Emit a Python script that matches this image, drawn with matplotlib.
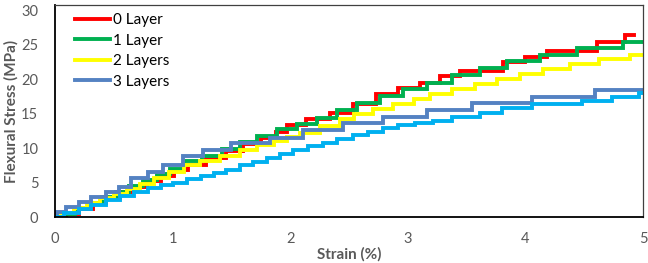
import matplotlib
matplotlib.use('Agg')
import matplotlib.pyplot as plt

# step curves (strain %, stress MPa)
x0 = [0, 0.09, 0.20, 0.32, 0.43, 0.55, 0.66, 0.78, 0.90, 1.01, 1.13, 1.28, 1.45, 1.60,
      1.75, 1.88, 1.97, 2.13, 2.34, 2.53, 2.73, 2.92, 3.10, 3.27, 3.44, 3.81, 4.00, 4.18,
      4.61, 4.85, 4.92]
y0 = [0, 0.4, 1.2, 2.0, 2.8, 3.6, 4.4, 5.2, 6.0, 6.8, 7.6, 8.6, 9.6, 10.6,
      11.5, 12.4, 13.3, 14.3, 15.1, 16.4, 17.8, 18.8, 19.5, 20.5, 21.2, 22.5, 23.2, 24.1,
      25.5, 26.5, 26.5]

x1 = [0, 0.06, 0.17, 0.29, 0.40, 0.52, 0.63, 0.75, 0.87, 0.98, 1.10, 1.25, 1.42, 1.57,
      1.72, 1.89, 2.06, 2.23, 2.40, 2.57, 2.76, 2.96, 3.16, 3.38, 3.61, 3.84, 4.12, 4.44,
      4.83, 5.0]
y1 = [0, 0.5, 1.3, 2.1, 2.9, 3.7, 4.5, 5.4, 6.2, 7.0, 8.2, 8.9, 9.9, 10.9,
      11.8, 12.8, 13.5, 14.4, 15.6, 16.6, 17.6, 18.6, 19.5, 20.6, 21.6, 22.6, 23.5, 24.5,
      25.5, 25.5]

x2 = [0, 0.05, 0.16, 0.27, 0.38, 0.50, 0.61, 0.72, 0.84, 0.97, 1.10, 1.23, 1.40, 1.57,
      1.72, 1.86, 1.97, 2.08, 2.25, 2.42, 2.54, 2.70, 2.87, 3.05, 3.19, 3.38, 3.57, 3.76,
      3.95, 4.15, 4.38, 4.63, 4.89, 5.0]
y2 = [0, 0.6, 1.3, 2.0, 2.7, 3.4, 4.1, 4.8, 5.6, 6.6, 7.5, 8.2, 8.9, 9.8,
      10.4, 11.1, 11.6, 12.2, 13.2, 14.2, 15.0, 15.7, 16.4, 17.2, 17.9, 18.6, 19.3, 20.1,
      20.8, 21.5, 22.2, 22.9, 23.6, 23.6]

x3 = [0, 0.02, 0.09, 0.20, 0.31, 0.43, 0.54, 0.65, 0.79, 0.92, 1.09, 1.26, 1.50, 1.83,
      2.11, 2.45, 2.79, 3.16, 3.55, 4.06, 4.59, 5.0]
y3 = [0, 0.7, 1.4, 2.2, 2.9, 3.6, 4.3, 5.6, 6.6, 7.6, 8.8, 9.8, 10.7, 11.5,
      12.6, 13.7, 14.6, 15.6, 16.5, 17.4, 18.4, 18.4]

x4 = [0, 0.08, 0.20, 0.31, 0.43, 0.55, 0.67, 0.79, 0.90, 1.00, 1.12, 1.24, 1.35, 1.45,
      1.57, 1.68, 1.80, 1.91, 2.02, 2.15, 2.28, 2.40, 2.53, 2.66, 2.79, 2.92, 3.06, 3.21,
      3.38, 3.61, 3.80, 4.06, 4.48, 4.74, 4.97, 5.0]
y4 = [0, 0.6, 1.2, 1.8, 2.4, 3.0, 3.6, 4.2, 4.6, 5.0, 5.5, 5.9, 6.4, 6.9,
      7.5, 8.0, 8.6, 9.1, 9.7, 10.3, 10.8, 11.4, 11.9, 12.4, 12.9, 13.3, 13.6, 13.9,
      14.5, 15.1, 15.8, 16.4, 16.9, 17.4, 18.0, 18.0]

labels = ['0 Layer', '1 Layer', '2 Layers', '3 Layers']
colors = ['#FF0000', '#00B050', '#FFFF00', '#5482C2', '#00B0F0']

plt.rcParams['font.family'] = ['Lato', 'DejaVu Sans']
grey = '#595959'

fig = plt.figure(figsize=(6.48, 2.63), dpi=100)
ax = fig.add_axes([0.0849, 0.1749, 0.9074, 0.806])

series = [(x0, y0), (x1, y1), (x2, y2), (x3, y3), (x4, y4)]
for i, (xs, ys) in enumerate(series):
    lab = labels[i] if i < len(labels) else '_nolegend_'
    ax.step(xs, ys, where='post', color=colors[i], lw=2.8, label=lab,
            solid_joinstyle='miter')

ax.set_xlim(0, 5)
ax.set_ylim(0, 30.8)
ax.set_xticks([0, 1, 2, 3, 4, 5])
ax.set_yticks([0, 5, 10, 15, 20, 25, 30])
ax.tick_params(length=0, labelsize=10.5, labelcolor=grey)
ax.tick_params(axis='x', pad=11)
ax.tick_params(axis='y', pad=12)

for s in ['top', 'right']:
    ax.spines[s].set_color('#404040')
    ax.spines[s].set_linewidth(0.9)
for s in ['left', 'bottom']:
    ax.spines[s].set_color('#000000')
    ax.spines[s].set_linewidth(1.3)

ax.set_xlabel('Strain (%)', fontsize=11, fontweight='bold', color=grey)
ax.xaxis.set_label_coords(0.5, -0.14)
ax.set_ylabel('Flexural Stress (MPa)', fontsize=11, fontweight='bold', color=grey)
ax.yaxis.set_label_coords(-0.062, 0.5)

ax.legend(loc='upper left', bbox_to_anchor=(0.02, 1.0), frameon=False, fontsize=11,
          handlelength=2.3, handletextpad=0.2, labelspacing=0.42, borderaxespad=0.15)

fig.savefig('out.png', dpi=100)
